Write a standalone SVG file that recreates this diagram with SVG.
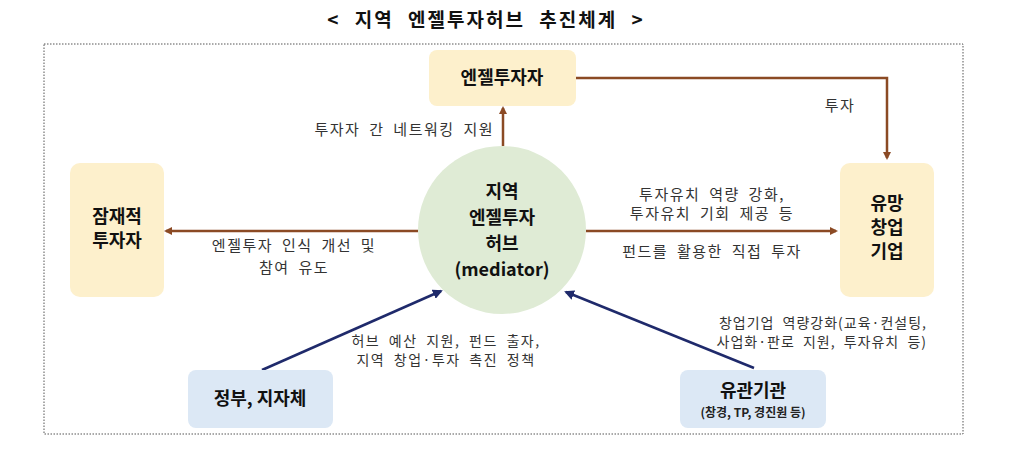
<svg xmlns="http://www.w3.org/2000/svg" width="1013" height="457" viewBox="0 0 1013 457">
<style>
text{font-family:"Noto Sans CJK KR","Noto Sans",sans-serif;fill:#222}
.t{font-size:15px;text-anchor:middle;letter-spacing:1.5px;word-spacing:4px;fill:#333}
.b{font-weight:bold;text-anchor:middle;font-size:18px;fill:#111}
.y{fill:#fdf0cc}.bl{fill:#dce8f5}
.br{stroke:#8b4a24;stroke-width:2.5;fill:none;marker-end:url(#ab)}
.nv{stroke:#1f2a6b;stroke-width:2.5;fill:none;marker-end:url(#an)}
</style>
<defs>
<marker id="ab" markerWidth="8" markerHeight="8" refX="6" refY="4" orient="auto" markerUnits="userSpaceOnUse"><path d="M0,0L8,4L0,8z" fill="#8b4a24"/></marker>
<marker id="an" markerWidth="10" markerHeight="10" refX="8" refY="5" orient="auto" markerUnits="userSpaceOnUse"><path d="M0,0L10,5L0,10z" fill="#1f2a6b"/></marker>
</defs>
<rect width="1013" height="457" fill="#fff"/>
<text x="486" y="27" class="b" style="font-size:19px;letter-spacing:2px;word-spacing:8px">&lt; 지역 엔젤투자허브 추진체계 &gt;</text>
<rect x="44" y="44" width="919" height="390" fill="none" stroke="#555" stroke-dasharray="1.5,1.5"/>
<g id="connectors">
<path class="br" d="M503,146V108"/>
<path class="br" d="M418,231H166"/>
<path class="br" d="M586,231H836"/>
<path class="br" d="M576,78H887V158"/>
<path class="nv" d="M262,370L441,291"/>
<path class="nv" d="M754,368L566,292"/>
</g>
<g id="angel"><rect class="y" x="429" y="50" width="147" height="56" rx="8"/><text class="b" x="502" y="84">엔젤투자자</text></g>
<g id="potential"><rect class="y" x="70" y="163" width="94" height="134" rx="10"/><text class="b" x="117" y="223">잠재적</text><text class="b" x="117" y="247">투자자</text></g>
<g id="startup"><rect class="y" x="840" y="163" width="94" height="134" rx="10"/><text class="b" x="887" y="210">유망</text><text class="b" x="887" y="234">창업</text><text class="b" x="887" y="258">기업</text></g>
<g id="hub"><circle cx="502" cy="230" r="84" fill="#dfebd5"/><text class="b" x="502" y="198">지역</text><text class="b" x="502" y="224">엔젤투자</text><text class="b" x="502" y="250">허브</text><text class="b" x="502" y="276">(mediator)</text></g>
<g id="gov"><rect class="bl" x="188" y="370" width="145" height="58" rx="8"/><text class="b" x="260" y="405">정부, 지자체</text></g>
<g id="org"><rect class="bl" x="680" y="370" width="146" height="58" rx="8"/><text class="b" x="753" y="397">유관기관</text><text x="753" y="417" style="font-size:12px;font-weight:bold;text-anchor:middle">(창경, TP, 경진원 등)</text></g>
<g id="labels">
<text class="t" x="494" y="135" style="text-anchor:end">투자자 간 네트워킹 지원</text>
<text class="t" x="840" y="111">투자</text>
<text class="t" x="294" y="251">엔젤투자 인식 개선 및</text>
<text class="t" x="294" y="273">참여 유도</text>
<text class="t" x="712" y="200">투자유치 역량 강화,</text>
<text class="t" x="712" y="219">투자유치 기회 제공 등</text>
<text class="t" x="712" y="257">펀드를 활용한 직접 투자</text>
<text class="t" x="446" y="346" style="font-size:14px">허브 예산 지원, 펀드 출자,</text>
<text class="t" x="446" y="365" style="font-size:14px">지역 창업·투자 촉진 정책</text>
<text class="t" x="927" y="328" style="text-anchor:end;font-size:14px;letter-spacing:1px">창업기업 역량강화(교육·컨설팅,</text>
<text class="t" x="927" y="347" style="text-anchor:end;font-size:14px;letter-spacing:1px">사업화·판로 지원, 투자유치 등)</text>
</g>
</svg>
